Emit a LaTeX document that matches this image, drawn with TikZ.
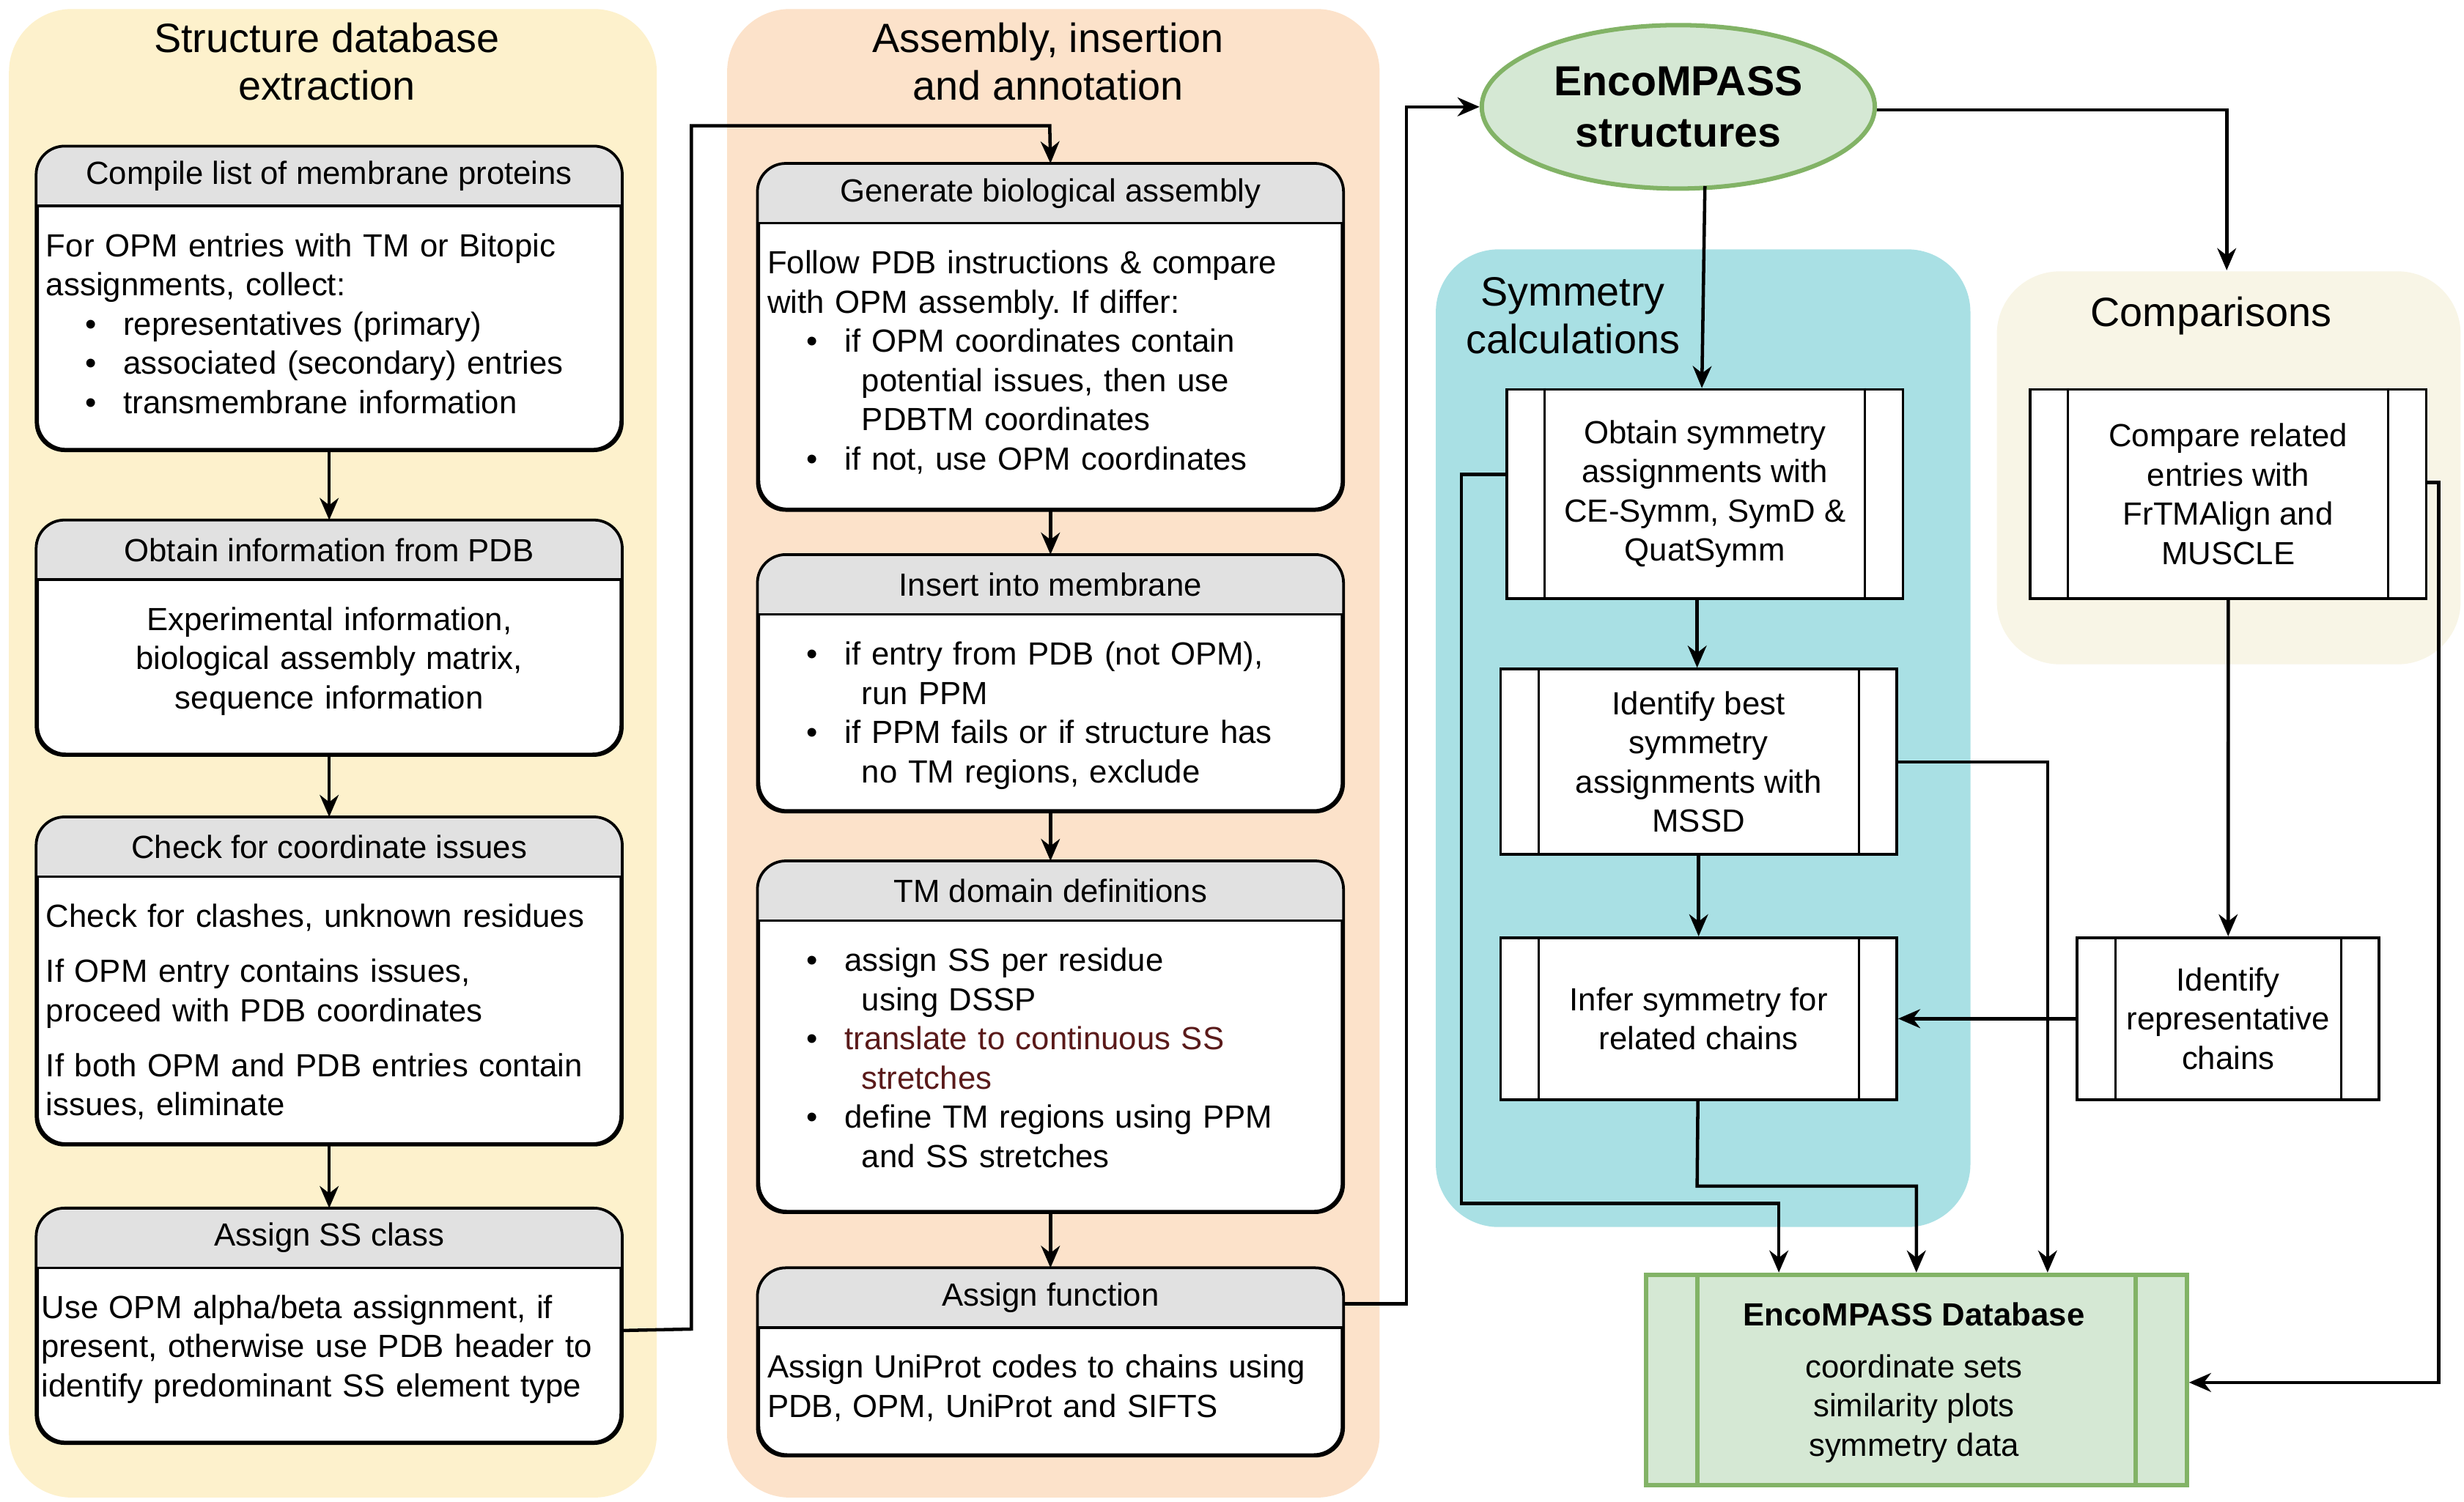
\documentclass[tikz,border=0pt]{standalone}
\usepackage{fontspec}
\setmainfont{Liberation Sans}
\usetikzlibrary{arrows.meta,shapes.geometric,calc}
\definecolor{panelA}{HTML}{FDF1CC}
\definecolor{panelB}{HTML}{FCE2CA}
\definecolor{panelS}{HTML}{A9E0E4}
\definecolor{panelK}{HTML}{F8F5E6}
\definecolor{headgray}{HTML}{E1E1E1}
\definecolor{dbgreen}{HTML}{D5E8D4}
\definecolor{dbline}{HTML}{82B366}
\definecolor{darkred}{HTML}{5A1A1A}
\newcommand\smallf{\fontsize{5.8}{7.1}\selectfont\hyphenpenalty=10000\frenchspacing}
\tikzset{
  panel/.style={rounded corners=0.4cm,anchor=north west,inner sep=0pt},
  ptitle/.style={font=\fontsize{7.4}{8.6}\selectfont,align=center},
  box/.style={draw,fill=white,rounded corners=0.18cm,anchor=north west,inner sep=0pt,line width=0.5pt},
  proc/.style={draw,fill=white,anchor=north west,inner sep=0pt,line width=0.5pt,
    font=\smallf,align=center},
  flow/.style={-{Stealth[length=0.14cm,width=0.12cm]},line width=0.6pt},
}
% boite avec en-tete gris
\newcommand\stepbox[8]{%
  \node[box,minimum width=3.71cm,minimum height=#4] (#1) at (#2,#3) {};
  \begin{scope}
    \clip[rounded corners=0.18cm] (#1.south west) rectangle (#1.north east);
    \fill[headgray] (#1.north west) rectangle ([yshift=-0.38cm]#1.north east);
  \end{scope}
  \draw[rounded corners=0.18cm,line width=0.5pt] (#1.south west) rectangle (#1.north east);
  \draw[line width=0.5pt] ([yshift=-0.38cm]#1.north west) -- ([yshift=-0.38cm]#1.north east);
  \node[font=\smallf] (#1t) at ([yshift=-0.19cm]#1.north) {#5};
  \node[anchor=north,text width=3.6cm,align=#6,font=\smallf] (#1b)
    at ([yshift=-0.43cm,xshift=#7]#1.north) {#8};
}
% boite processus (doubles traits)
\newcommand\procbox[6]{%
  \node[proc,minimum width=#4,minimum height=#5] (#1) at (#2,#3) {};
  \draw ([xshift=0.25cm]#1.north west) -- ([xshift=0.25cm]#1.south west);
  \draw ([xshift=-0.25cm]#1.north east) -- ([xshift=-0.25cm]#1.south east);
  \node[font=\smallf,align=center] (#1b) at (#1.center) {#6};
}
\newcommand\bul{\hspace*{0.25cm}\textbullet\hspace{0.17cm}}
\newcommand\ind{\hspace*{0.6cm}}
\begin{document}
\begin{tikzpicture}[x=0.01cm,y=-0.01cm]
\useasboundingbox (0,0) rectangle (1568,956);
% les panneaux
\node[panel,fill=panelA,minimum width=4.12cm,minimum height=9.47cm] (pA) at (5,5) {};
\node[panel,fill=panelB,minimum width=4.15cm,minimum height=9.47cm] (pB) at (462,5) {};
\node[panel,fill=panelS,minimum width=3.40cm,minimum height=6.22cm] (pS) at (913,158) {};
\node[panel,fill=panelK,minimum width=2.95cm,minimum height=2.50cm] (pK) at (1270,172) {};
\node[ptitle] (tA) at (208,39) {Structure database\\extraction};
\node[ptitle] (tB) at (667,39) {Assembly, insertion\\and annotation};
\node[ptitle] (tS) at (1001,201) {Symmetry\\calculations};
\node[ptitle] (tK) at (1407,201) {Comparisons};
% colonne 1
\stepbox{b1}{23}{93}{1.92cm}{Compile list of membrane proteins}{left}{0cm}{%
For OPM entries with TM or Bitopic\\assignments, collect:\\
\bul representatives (primary)\\
\bul associated (secondary) entries\\
\bul transmembrane information}
\stepbox{b2}{23}{331}{1.48cm}{Obtain information from PDB}{center}{0cm}{%
Experimental information,\\biological assembly matrix,\\sequence information}
\stepbox{b3}{23}{520}{2.07cm}{Check for coordinate issues}{left}{0cm}{%
Check for clashes, unknown residues\\[0.1cm]
If OPM entry contains issues,\\proceed with PDB coordinates\\[0.1cm]
If both OPM and PDB entries contain\\issues, eliminate}
\stepbox{b4}{23}{769}{1.48cm}{Assign SS class}{left}{-0.03cm}{%
Use OPM alpha/beta assignment, if\\present, otherwise use PDB header to\\identify predominant SS element type}
% colonne 2
\stepbox{c1}{482}{104}{2.19cm}{Generate biological assembly}{left}{0cm}{%
Follow PDB instructions \& compare\\with OPM assembly. If differ:\\
\bul if OPM coordinates contain\\\ind potential issues, then use\\\ind PDBTM coordinates\\
\bul if not, use OPM coordinates}
\stepbox{c2}{482}{353}{1.62cm}{Insert into membrane}{left}{0cm}{%
\bul if entry from PDB (not OPM),\\\ind run PPM\\
\bul if PPM fails or if structure has\\\ind no TM regions, exclude}
\stepbox{c3}{482}{548}{2.22cm}{TM domain definitions}{left}{0cm}{%
\bul assign SS per residue\\\ind using DSSP\\
\bul \textcolor{darkred}{translate to continuous SS}\\\ind \textcolor{darkred}{stretches}\\
\bul define TM regions using PPM\\\ind and SS stretches}
\stepbox{c4}{482}{807}{1.18cm}{Assign function}{left}{0cm}{%
Assign UniProt codes to chains using\\PDB, OPM, UniProt and SIFTS}
% EncoMPASS
\node[ellipse,draw=dbline,fill=dbgreen,line width=0.8pt,minimum width=2.5cm,minimum height=1.04cm,inner sep=1pt,
  align=center,font=\bfseries\fontsize{7.6}{9.2}\selectfont] (enc) at (1068,68) {EncoMPASS\\structures};
\procbox{s1}{958}{247}{2.52cm}{1.33cm}{Obtain symmetry\\assignments with\\CE-Symm, SymD \&\\QuatSymm}
\procbox{s2}{954}{425}{2.52cm}{1.18cm}{Identify best\\symmetry\\assignments with\\MSSD}
\procbox{s3}{954}{596}{2.52cm}{1.03cm}{Infer symmetry for\\related chains}
\procbox{k1}{1291}{247}{2.52cm}{1.33cm}{Compare related\\entries with\\FrTMAlign and\\MUSCLE}
\procbox{k2}{1321}{596}{1.92cm}{1.03cm}{Identify\\representative\\chains}
\node[proc,draw=dbline,fill=dbgreen,line width=0.8pt,minimum width=3.44cm,minimum height=1.34cm] (db) at (1046,810) {};
\draw[dbline,line width=0.8pt] ([xshift=0.34cm]db.north west) -- ([xshift=0.34cm]db.south west);
\draw[dbline,line width=0.8pt] ([xshift=-0.34cm]db.north east) -- ([xshift=-0.34cm]db.south east);
\node[font=\smallf,align=center] (dbt) at (1218,880)
  {\textbf{EncoMPASS Database}\\[0.08cm]coordinate sets\\similarity plots\\symmetry data};
% les fleches
\draw[flow] (b1) -- (b2);
\draw[flow] (b2) -- (b3);
\draw[flow] (b3) -- (b4);
\draw[flow] ([yshift=-0.03cm]b4.east) -- (440,846) |- (668,80) -- (c1.north);
\draw[flow] (c1) -- (c2);
\draw[flow] (c2) -- (c3);
\draw[flow] (c3) -- (c4);
\draw[flow] (c4.east |- 0,830) -- (895,830) |- (enc.west);
\draw[flow] (enc.south -| s1.north) ++(0,-3) -- (s1.north -| 1083,0);
\draw[flow] (enc.east) ++(0,2) -- (1417,70) -- (pK.north -| 1417,0);
\draw[flow] (s1.south -| 1080,0) -- (s2.north -| 1080,0);
\draw[flow] (s2) -- (s3);
\draw[flow] (k1) -- (k2.north);
\draw[flow] (k2) -- (s3);
\draw[flow] (s1.west |- 0,302) -- (930,302) |- (1132,766) -- (db.north -| 1132,0);
\draw[flow] (s3) -- (1080,755) -| (db.north);
\draw[flow] (s2.east |- 0,485) -- (1303,485) -- (db.north -| 1303,0);
\draw[flow] (k1.east |- 0,307) -- (1552,307) |- (db.east |- 0,880);
\end{tikzpicture}
\end{document}
